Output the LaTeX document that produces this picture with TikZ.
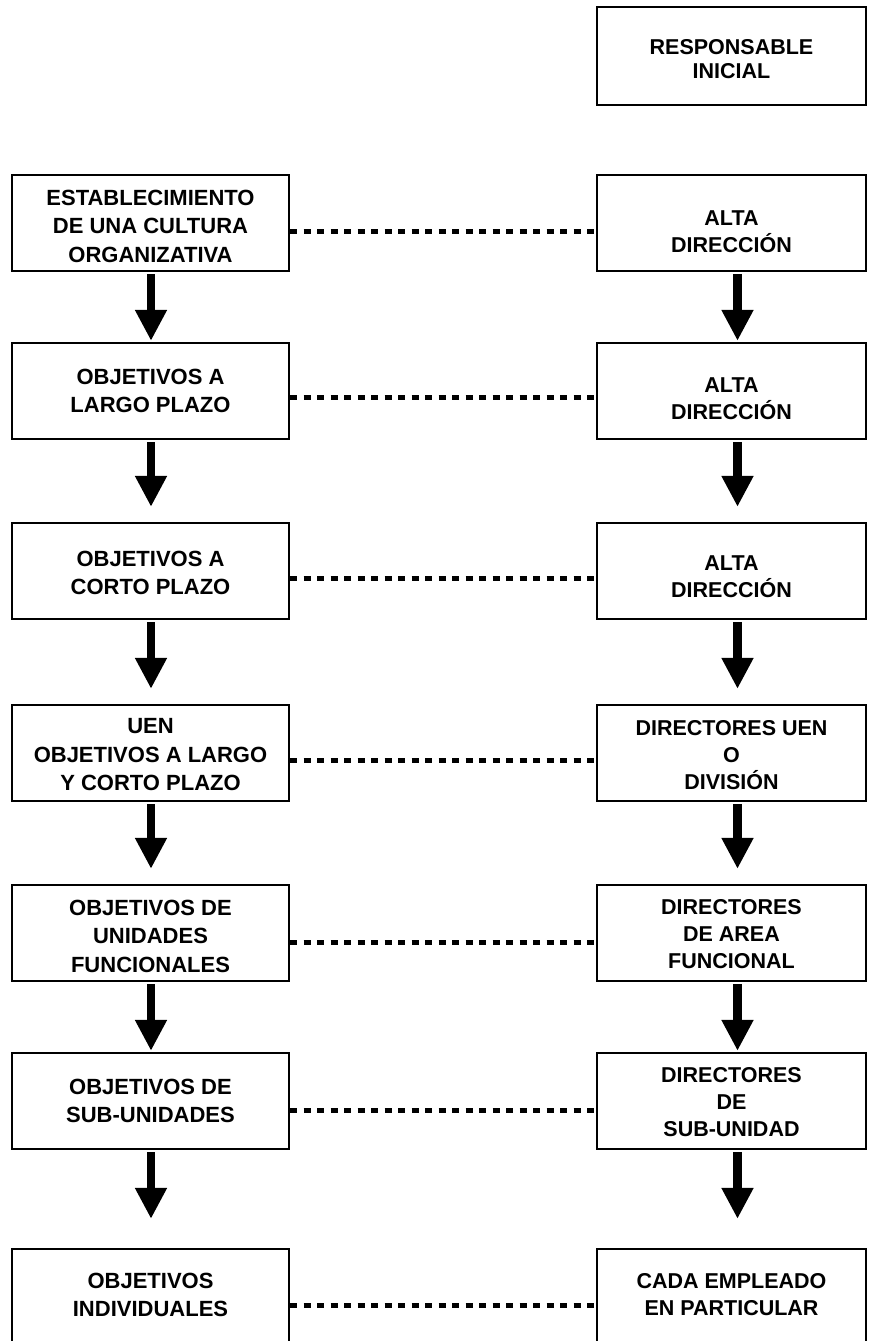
\documentclass[tikz,border=0pt]{standalone}
\usepackage{fontspec}
\setmainfont{Liberation Sans}
\usetikzlibrary{arrows.meta}
\begin{document}
\begin{tikzpicture}[x=1pt,y=-1pt,
  box/.style={draw, line width=2.3pt, minimum height=96pt, inner sep=0pt},
  lbox/.style={box, minimum width=277pt},
  rbox/.style={box, minimum width=269pt},
  ltxt/.style={align=center, inner sep=0pt, font=\bfseries\fontsize{22}{28.5}\selectfont},
  rtxt/.style={align=center, inner sep=0pt, font=\bfseries\fontsize{21.5}{27}\selectfont},
  flow/.style={line width=8.5pt, -{Triangle[width=30pt,length=31pt]}},
  link/.style={line width=5pt, dash pattern=on 7pt off 6.5pt}]
\useasboundingbox (0,0) rectangle (868,1341);
\clip (0,0) rectangle (868,1341);
\fill[white] (0,0) rectangle (868,1341);

% top box
\node[rbox, minimum height=98pt] (r0) at (731.5,56) {};
\node[rtxt, font=\bfseries\fontsize{21.5}{23.5}\selectfont] (r0t) at ([yshift=-3pt]r0.center) {RESPONSABLE\\INICIAL};

% rows: left boxes
\node[lbox] (l1) at (150.5,223) {};
\node[lbox] (l2) at (150.5,391) {};
\node[lbox] (l3) at (150.5,571) {};
\node[lbox] (l4) at (150.5,753) {};
\node[lbox] (l5) at (150.5,933) {};
\node[lbox] (l6) at (150.5,1101) {};
\node[lbox] (l7) at (150.5,1297) {};
% rows: right boxes
\node[rbox] (r1) at (731.5,223) {};
\node[rbox] (r2) at (731.5,391) {};
\node[rbox] (r3) at (731.5,571) {};
\node[rbox] (r4) at (731.5,753) {};
\node[rbox] (r5) at (731.5,933) {};
\node[rbox] (r6) at (731.5,1101) {};
\node[rbox] (r7) at (731.5,1297) {};

% texts
\node[ltxt] (l1t) at ([yshift=-3pt]l1.center) {ESTABLECIMIENTO\\DE UNA CULTURA\\ORGANIZATIVA};
\node[ltxt] (l2t) at ([yshift=0pt]l2.center) {OBJETIVOS A\\LARGO PLAZO};
\node[ltxt] (l3t) at ([yshift=-2pt]l3.center) {OBJETIVOS A\\CORTO PLAZO};
\node[ltxt] (l4t) at ([yshift=-2pt]l4.center) {UEN\\OBJETIVOS A LARGO\\Y CORTO PLAZO};
\node[ltxt] (l5t) at ([yshift=-3pt]l5.center) {OBJETIVOS DE\\UNIDADES\\FUNCIONALES};
\node[ltxt] (l6t) at ([yshift=0pt]l6.center) {OBJETIVOS DE\\SUB-UNIDADES};
\node[ltxt] (l7t) at ([yshift=2pt]l7.center) {OBJETIVOS\\INDIVIDUALES};

\node[rtxt] (r1t) at ([yshift=-9pt]r1.center) {ALTA\\DIRECCIÓN};
\node[rtxt] (r2t) at ([yshift=-8pt]r2.center) {ALTA\\DIRECCIÓN};
\node[rtxt] (r3t) at ([yshift=-6pt]r3.center) {ALTA\\DIRECCIÓN};
\node[rtxt] (r4t) at ([yshift=-2pt]r4.center) {DIRECTORES UEN\\O\\DIVISIÓN};
\node[rtxt] (r5t) at ([yshift=-1pt]r5.center) {DIRECTORES\\DE AREA\\FUNCIONAL};
\node[rtxt] (r6t) at ([yshift=-1pt]r6.center) {DIRECTORES\\DE\\SUB-UNIDAD};
\node[rtxt] (r7t) at ([yshift=2pt]r7.center) {CADA EMPLEADO\\EN PARTICULAR};

% dotted links
\foreach \i/\d in {1/8,2/6,3/7,4/7,5/9,6/9,7/8}{
  \draw[link] ([yshift=-\d pt]l\i.east) -- ([yshift=-\d pt]r\i.west);
}

% arrows
\foreach \a/\b/\g in {1/2/1,2/3/15,3/4/15,4/5/15,5/6/1,6/7/29}{
  \draw[flow, shorten >=\g pt] ([yshift=-2pt,xshift=0.5pt]l\a.south) -- ([xshift=0.5pt]l\b.north);
  \draw[flow, shorten >=\g pt] ([yshift=-2pt,xshift=6pt]r\a.south) -- ([xshift=6pt]r\b.north);
}
\end{tikzpicture}
\end{document}
